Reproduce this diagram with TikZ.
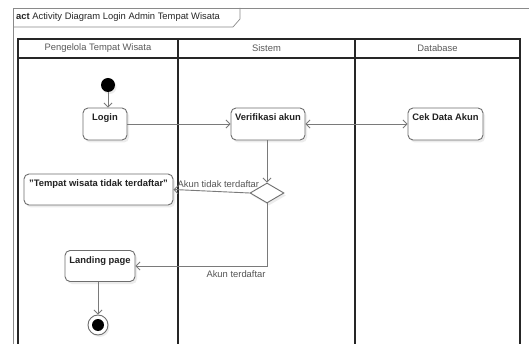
\documentclass[tikz,border=0pt]{standalone}
\usepackage{fontspec}
\setmainfont{Liberation Sans}
\usetikzlibrary{arrows.meta,shadows,shapes.geometric}

\definecolor{framec}{HTML}{8A8A8A}
\definecolor{boxc}{HTML}{6E6E6E}
\definecolor{linec}{HTML}{7A7A7A}
\definecolor{txtc}{HTML}{222222}
\definecolor{lblc}{HTML}{555555}

\tikzset{
  base/.style={font=\fontsize{9.4}{11}\selectfont},
  lane/.style={draw=black!85, line width=1.2pt},
  lanehead/.style={base, text=black!65, inner sep=0pt},
  actbox/.style={draw=boxc, fill=white, line width=0.9pt, rounded corners=5pt,
    drop shadow={shadow xshift=2pt, shadow yshift=-2.5pt, fill=black!14},
    inner sep=0pt},
  acttext/.style={base, font=\fontsize{9.4}{11}\selectfont\bfseries, text=txtc,
    anchor=north, inner sep=0pt, yshift=-6pt},
  flow/.style={draw=linec, line width=0.9pt, -{Straight Barb[length=4pt,width=8pt]}},
  bothflow/.style={draw=linec, line width=0.9pt,
    {Straight Barb[length=4pt,width=8pt]}-{Straight Barb[length=4pt,width=8pt]}},
  guard/.style={base, text=lblc, inner sep=1pt},
}

\begin{document}
\begin{tikzpicture}[x=1pt, y=-1pt]
\useasboundingbox (0,0) rectangle (529,344);
\fill[white] (0,0) rectangle (529,344);

% diagram frame with its name tab
\draw[framec, line width=0.7pt] (13,350) -- (13,8) -- (535,8);
\draw[framec, line width=0.7pt] (13,27) -- (233,27) -- (240,19) -- (240,8);
\node[base, anchor=west, inner sep=0pt, text=black!85] (title) at (16,17.5)
  {\textbf{act} Activity Diagram Login Admin Tempat Wisata};

% swimlanes
\draw[lane] (18,345) -- (18,39) -- (520,39) -- (520,345);
\draw[lane] (18,58) -- (520,58);
\draw[lane] (178,39) -- (178,345);
\draw[lane] (355,39) -- (355,345);
\node[lanehead] (laneA) at (98,48.5) {Pengelola Tempat Wisata};
\node[lanehead] (laneB) at (266.5,48.5) {Sistem};
\node[lanehead] (laneC) at (437.5,48.5) {Database};

% nodes
\node[circle, fill=black, minimum size=14pt, inner sep=0pt,
  drop shadow={shadow xshift=1.5pt, shadow yshift=-2pt, fill=black!14}] (start) at (108,85) {};
\node[actbox, minimum width=44pt, minimum height=32pt,
  label={[acttext]north:Login}] (login) at (105,124) {};
\node[actbox, minimum width=74pt, minimum height=32pt,
  label={[acttext]north:Verifikasi akun}] (verif) at (268,124) {};
\node[actbox, minimum width=75pt, minimum height=32pt,
  label={[acttext]north:Cek Data Akun}] (cek) at (445.5,124) {};
\node[diamond, draw=boxc, fill=white, line width=0.9pt, minimum width=34pt,
  minimum height=20pt, inner sep=0pt, aspect=1.7,
  drop shadow={shadow xshift=2pt, shadow yshift=-2.5pt, fill=black!14}] (dec) at (267,193) {};
\node[actbox, minimum width=149pt, minimum height=31pt,
  label={[acttext]north:"Tempat wisata tidak terdaftar"}] (tidak) at (98.5,189.5) {};
\node[actbox, minimum width=70pt, minimum height=31pt,
  label={[acttext]north:Landing page}] (landing) at (100,266) {};
\node[circle, draw=boxc, fill=white, line width=0.9pt, minimum size=20pt, inner sep=0pt,
  drop shadow={shadow xshift=1.5pt, shadow yshift=-2pt, fill=black!14},
  path picture={\fill[black] (path picture bounding box.center) circle (6pt);}] (final) at (98,325) {};

% connectors
\draw[flow] (start.south) -- (start.south |- login.north);
\draw[flow] (login.east) -- (verif.west);
\draw[bothflow] (verif.east) -- (cek.west);
\draw[flow] (dec.north |- verif.south) -- (dec.north);
\draw[flow] (dec.west) -- node[guard, pos=0.41, anchor=south, yshift=3pt] (gno) {Akun tidak terdaftar} (tidak.east);
\draw[flow] (dec.south) |- node[guard, pos=0.5, anchor=north east, yshift=-3pt] (gyes) {Akun terdaftar} (landing.east);
\draw[flow] (final.north |- landing.south) -- (final.north);
\end{tikzpicture}
\end{document}
